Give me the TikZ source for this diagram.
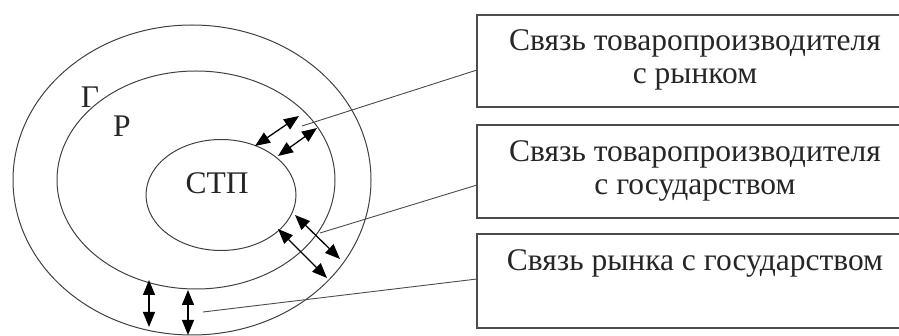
\documentclass[tikz,border=0pt]{standalone}
\usepackage{fontspec}
\setmainfont{Liberation Serif}
\newfontfamily\tnr{Liberation Serif}
\usetikzlibrary{arrows.meta,shapes.geometric}
\begin{document}
\begin{tikzpicture}[x=1pt,y=-1pt,
  ring/.style={draw=black!75,line width=1pt,ellipse,inner sep=0pt},
  linkbox/.style={draw=black!70,line width=1.2pt},
  lbl/.style={font=\tnr\fontsize{31.5}{33}\selectfont,text=black!85,align=center},
  dbl/.style={<->,>={Triangle[length=15pt,width=12pt]},line width=1.3pt,black},
  lead/.style={draw=black!70,line width=0.9pt}]
\useasboundingbox (0,0) rectangle (899,336);
\clip (0,0) rectangle (899,336);
% ellipses
\node[ring,minimum width=358pt,minimum height=310pt] (G) at (192,180) {};
\node[ring,minimum width=278pt,minimum height=218pt] (R) at (196,180) {};
\node[ring,minimum width=150pt,minimum height=111pt] (S) at (221,195) {};
\node[lbl] (tG) at (90,97) {Г};
\node[lbl] (tR) at (122,126) {Р};
\node[lbl] (tS) at (217,183) {СТП};
% boxes
\draw[linkbox] (477,15) rectangle (920,107);
\draw[linkbox] (477,125) rectangle (920,218);
\draw[linkbox] (477,234) rectangle (920,328);
\node[lbl] (b1) at (695,60) {Связь товаропроизводителя\\с рынком};
\node[lbl] (b2) at (695,171) {Связь товаропроизводителя\\с государством};
\node[lbl] (b3) at (695,263) {Связь рынка с государством};
\coordinate (b1in) at (477,70);
\coordinate (b2in) at (477,185);
\coordinate (b3in) at (477,279);
% arrows
\coordinate (a1s) at (255,146); \coordinate (a1e) at (299,116);
\coordinate (a2s) at (278,156); \coordinate (a2e) at (317,128);
\coordinate (a3s) at (295,215); \coordinate (a3e) at (340,259);
\coordinate (a4s) at (278,229); \coordinate (a4e) at (327,278);
\coordinate (a5s) at (149,280); \coordinate (a5e) at (149,327);
\coordinate (a6s) at (188,290); \coordinate (a6e) at (188,335);
\draw[dbl] (a1s) -- (a1e);
\draw[dbl] (a2s) -- (a2e);
\draw[dbl] (a3s) -- (a3e);
\draw[dbl] (a4s) -- (a4e);
\draw[dbl] (a5s) -- (a5e);
\draw[dbl] (a6s) -- (a6e);
% leader lines
\coordinate (l1) at (302,126);
\coordinate (l2) at (320,233);
\coordinate (l3) at (203,312);
\draw[lead] (l1) -- (b1in);
\draw[lead] (l2) -- (b2in);
\draw[lead] (l3) -- (b3in);
\end{tikzpicture}
\end{document}
